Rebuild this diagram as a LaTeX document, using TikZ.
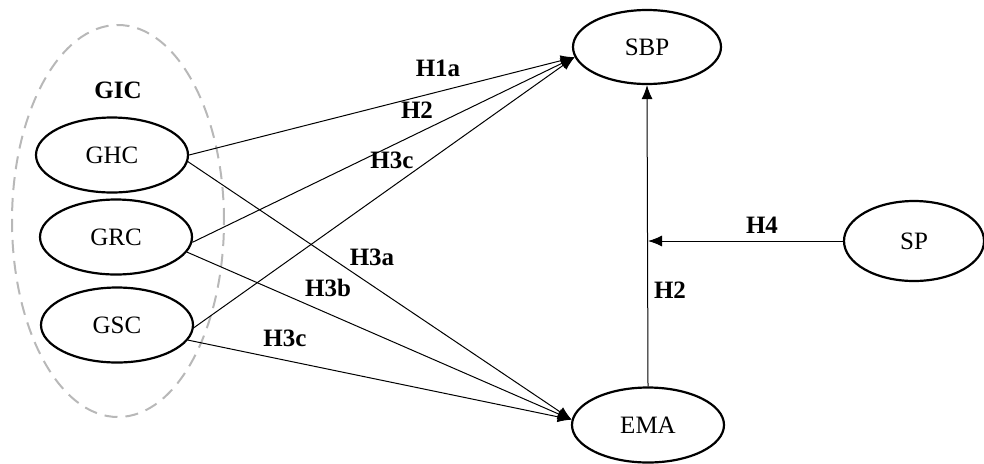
\documentclass[tikz,border=0pt]{standalone}
\usepackage{fontspec}
\setmainfont{Liberation Serif}
\usetikzlibrary{shapes.geometric,arrows.meta}

\begin{document}
\begin{tikzpicture}[x=0.5pt,y=0.5pt,->,>={Latex[length=7pt,width=5.5pt]},line width=0.5pt,
    main node/.style={ellipse,draw,line width=1.1pt,minimum width=76pt,minimum height=37.5pt,inner sep=0pt,font=\fontsize{12.5}{14}\selectfont},
    hyp/.style={font=\fontsize{12.5}{14}\selectfont\bfseries,inner sep=1pt}]
            \useasboundingbox (0,0) rectangle (984,463);
            % dashed group
            \node[ellipse,draw,dashed,dash pattern=on 6.5pt off 4pt,line width=1pt,color=black!28,minimum width=106pt,minimum height=196pt] (gic) at (118,242) {};
            \node[hyp] (gictext) at (118,373) {GIC};

            \node[main node] (ghc) at (112,308) {GHC};
            \node[main node] (grc) at (116,226) {GRC};
            \node[main node] (gsc) at (117,138) {GSC};
            \node[main node,minimum width=74pt,minimum height=37pt] (sbp) at (647,416) {SBP};
            \node[main node] (ema) at (648,38) {EMA};
            \node[main node,minimum width=70pt,minimum height=40pt] (sp) at (914,222) {SP};
            \coordinate (mid) at (648,222);

            \path
                (ghc.east) edge (sbp.188)
                (grc.-4) edge (sbp.188)
                (gsc.-2) edge (sbp.188)
                (ghc.-5) edge (ema.176)
                (grc.-12) edge (ema.176)
                (gsc.-12) edge (ema.176)
                (ema.north) edge (sbp.south)
                (sp.west) edge (mid)
                ;

            \node[hyp] (h1a) at (438,395) {H1a};
            \node[hyp] (h2a) at (417,353) {H2};
            \node[hyp] (h3ctop) at (392,303) {H3c};
            \node[hyp] (h3a) at (372,206) {H3a};
            \node[hyp] (h3b) at (328,175) {H3b};
            \node[hyp] (h3cbot) at (285,125) {H3c};
            \node[hyp] (h4) at (762,238) {H4};
            \node[hyp] (h2b) at (670,173) {H2};
        \end{tikzpicture}
\end{document}
